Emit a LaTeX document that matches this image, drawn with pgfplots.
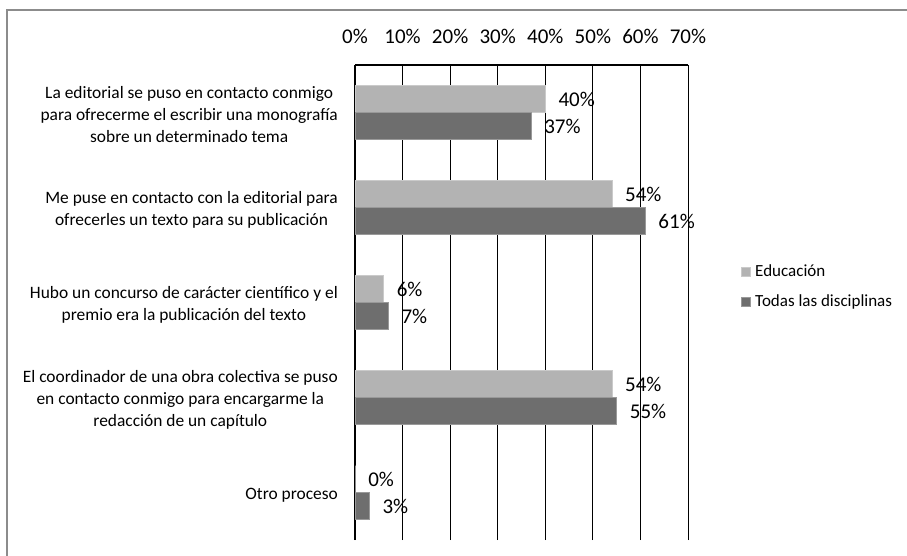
\documentclass[border=0pt]{standalone}
\usepackage{fontspec}
\setmainfont{Carlito}
\usepackage{pgfplots}
\pgfplotsset{compat=1.18}
\definecolor{edu}{HTML}{B3B3B3}
\definecolor{tod}{HTML}{6E6E6E}
\definecolor{frame}{HTML}{8C8C8C}
\begin{document}
\begin{tikzpicture}
\useasboundingbox (0,0) rectangle (907pt,-556pt);
\draw[color=frame, line width=1.5pt] (7pt,-556pt) -- (7pt,-10pt) -- (907pt,-10pt);
\begin{axis}[
  at={(355pt,-540pt)}, anchor=south west,
  scale only axis, width=333pt, height=475pt,
  xbar, bar width=27pt,
  xmin=0, xmax=70, ymin=-0.5, ymax=4.5,
  /pgf/number format/assume math mode=true,
  axis x line*=top, axis y line*=left,
  axis line style={-, black, line width=1.2pt},
  xtick={0,10,...,70},
  xticklabel={\pgfmathprintnumber{\tick}\%},
  xticklabel style={font=\fontsize{21}{25}\selectfont, anchor=base, inner sep=0pt, yshift=21.5pt},
  xmajorgrids, major grid style={black, line width=0.9pt},
  major tick length=0pt,
  ytick={0,1,2,3,4},
  yticklabels={{Otro proceso},
    {El coordinador de una obra colectiva se puso\\en contacto conmigo para encargarme la\\redacción de un capítulo},
    {Hubo un concurso de carácter científico y el\\premio era la publicación del texto},
    {Me puse en contacto con la editorial para\\ofrecerles un texto para su publicación},
    {La editorial se puso en contacto conmigo\\para ofrecerme el escribir una monografía\\sobre un determinado tema}},
  yticklabel style={font=\fontsize{17.4}{22}\selectfont, align=center, anchor=east, inner sep=0pt, xshift=-17pt, yshift=-2.5pt},
  nodes near coords={\pgfmathprintnumber{\pgfplotspointmeta}\%},
  nodes near coords style={font=\fontsize{21}{25}\selectfont, anchor=west, inner sep=0pt, xshift=13pt, black},
  legend style={at={(1.159,0.585)}, anchor=north west, draw=none, fill=none,
    font=\fontsize{17}{20}\selectfont, row sep=12pt, inner sep=0pt,
    nodes={inner sep=2.5pt}},
  legend cell align=left,
  legend image code/.code={\fill[#1] (0pt,-4.5pt) rectangle (9pt,4.5pt);},
]
\addplot[fill=edu, draw=edu!70!white, line width=0.6pt, bar shift=13.5pt]
  coordinates {(0,0) (54,1) (6,2) (54,3) (40,4)};
\addlegendentry{\hspace{2pt}Educación}
\addplot[fill=tod, draw=tod!70!white, line width=0.6pt, bar shift=-13.5pt]
  coordinates {(3,0) (55,1) (7,2) (61,3) (37,4)};
\addlegendentry{\hspace{2pt}Todas las disciplinas}
\end{axis}
\end{tikzpicture}
\end{document}
